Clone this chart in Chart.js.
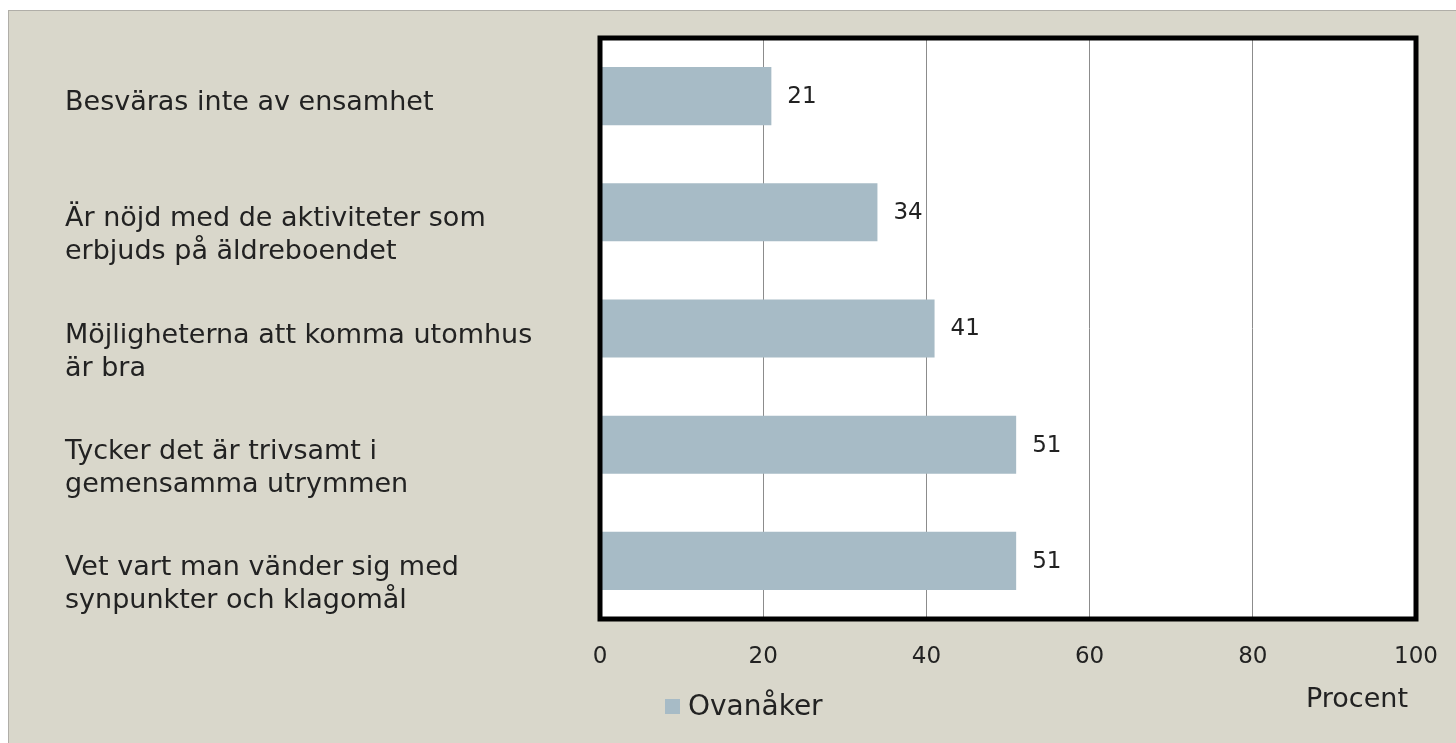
<!DOCTYPE html>
<html lang="sv">
<head>
<meta charset="utf-8">
<title>Ovanåker</title>
<script src="https://cdn.jsdelivr.net/npm/chart.js@4/dist/chart.umd.min.js"></script>
<style>
    html, body { margin: 0; padding: 0; background: #ffffff; overflow: hidden; }
    #ram {
        position: absolute; left: 8px; top: 10px; width: 1460px; height: 750px;
        background: #d9d7cb; border: 1px solid #b0aea8;
    }
    #wrap { position: absolute; left: 0; top: 0; width: 1456px; height: 743px; }
</style>
</head>
<body>
<div id="ram"></div>
<div id="wrap"><canvas id="grafico"></canvas></div>
<script>
// ==========================================
// DATOS
// ==========================================
const kategorier = [
    ['Besväras inte av ensamhet'],
    ['Är nöjd med de aktiviteter som', 'erbjuds på äldreboendet'],
    ['Möjligheterna att komma utomhus', 'är bra'],
    ['Tycker det är trivsamt i', 'gemensamma utrymmen'],
    ['Vet vart man vänder sig med', 'synpunkter och klagomål']
];
const ovanaker = [21, 34, 41, 51, 51];
const xTicks = [0, 20, 40, 60, 80, 100];
const serieNamn = 'Ovanåker';
const axelTitel = 'Procent';

const FONT = '"DejaVu Sans", sans-serif';
const TEXT = '#222222';
const BAR = '#a7bbc6';

// ==========================================
// PLUGINS (vit yta, etiketter, ram, legend)
// ==========================================
const vitYta = {
    id: 'vitYta',
    beforeDraw(chart) {
        const a = chart.chartArea;
        chart.ctx.save();
        chart.ctx.fillStyle = '#ffffff';
        chart.ctx.fillRect(a.left, a.top, a.right - a.left, a.bottom - a.top);
        chart.ctx.restore();
    }
};

const etiketter = {
    id: 'etiketter',
    afterDatasetsDraw(chart) {
        const ctx = chart.ctx;
        const y = chart.scales.y;
        ctx.save();
        ctx.fillStyle = TEXT;

        // kategorinamn till vänster
        ctx.font = '27px ' + FONT;
        ctx.textAlign = 'left';
        ctx.textBaseline = 'alphabetic';
        kategorier.forEach((rader, i) => {
            const cy = y.getPixelForValue(i);
            rader.forEach((r, j) => ctx.fillText(r, 65, cy + 14 + j * 33));
        });

        // värden efter staplarna
        ctx.font = '23px ' + FONT;
        ctx.textBaseline = 'middle';
        chart.getDatasetMeta(0).data.forEach((bar, i) => {
            ctx.fillText(String(ovanaker[i]), bar.x + 16, bar.y + 1);
        });

        // tjock svart ram runt diagramytan
        const a = chart.chartArea;
        ctx.strokeStyle = '#000000';
        ctx.lineWidth = 5;
        ctx.strokeRect(a.left, a.top, a.right - a.left, a.bottom - a.top);

        // axeltitel
        ctx.font = '27px ' + FONT;
        ctx.textAlign = 'right';
        ctx.textBaseline = 'alphabetic';
        ctx.fillText(axelTitel, 1408, 707);

        // legend
        ctx.fillStyle = BAR;
        ctx.fillRect(665, 699, 15, 15);
        ctx.fillStyle = TEXT;
        ctx.textAlign = 'left';
        ctx.font = '28px ' + FONT;
        ctx.fillText(serieNamn, 688, 715);
        ctx.restore();
    }
};

const ctx = document.getElementById('grafico').getContext('2d');
new Chart(ctx, {
    type: 'bar',
    data: {
        labels: kategorier.map(k => k.join(' ')),
        datasets: [{
            label: serieNamn,
            data: ovanaker,
            backgroundColor: BAR,
            borderWidth: 0,
            barPercentage: 0.5,
            categoryPercentage: 1
        }]
    },
    options: {
        indexAxis: 'y',
        responsive: true,
        maintainAspectRatio: false,
        animation: false,
        layout: { padding: { left: 600, right: 40, top: 38, bottom: 0 } },
        plugins: { legend: { display: false }, tooltip: { enabled: false } },
        scales: {
            x: {
                min: 0,
                max: 100,
                afterBuildTicks: s => { s.ticks = xTicks.map(v => ({ value: v })); },
                afterFit: s => { s.height = 743 - 619; },
                // osynliga tickmarkeringar ger avståndet ner till siffrorna
                grid: { color: '#8c8c8c', lineWidth: 1, drawTicks: true, tickLength: 24, tickColor: 'rgba(0,0,0,0)' },
                border: { display: false },
                ticks: { padding: 0, color: TEXT, font: { family: FONT, size: 23 } }
            },
            y: { display: false }
        }
    },
    plugins: [vitYta, etiketter]
});
</script>
</body>
</html>
